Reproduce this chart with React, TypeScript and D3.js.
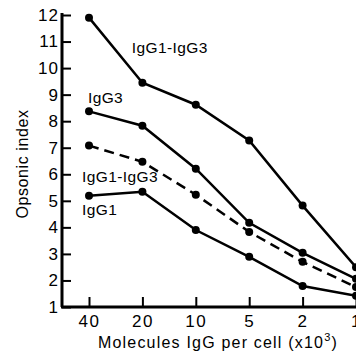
import { useEffect, useRef } from "react";
import * as d3 from "d3";

// x categories (molecules IgG per cell, x10^3)
const doses = ["40", "20", "10", "5", "2", "1"];
const yTicks = [1, 2, 3, 4, 5, 6, 7, 8, 9, 10, 11, 12];

// opsonic index per series
const igg1igg3Top = [11.9, 9.45, 8.62, 7.27, 4.82, 2.5];
const igg3 = [8.37, 7.83, 6.21, 4.17, 3.04, 2.06];
const igg1igg3Dashed = [7.08, 6.47, 5.23, 3.83, 2.7, 1.75];
const igg1 = [5.19, 5.34, 3.9, 2.89, 1.79, 1.42];

const series = [
  { name: "IgG1-IgG3", values: igg1igg3Top, dashed: false },
  { name: "IgG3", values: igg3, dashed: false },
  { name: "IgG1-IgG3", values: igg1igg3Dashed, dashed: true },
  { name: "IgG1", values: igg1, dashed: false },
];

// label positions in data space (category offset, value)
const labels = [
  { text: "IgG1-IgG3", at: [0.8, 10.58] },
  { text: "IgG3", at: [-0.02, 8.7] },
  { text: "IgG1-IgG3", at: [-0.13, 5.7] },
  { text: "IgG1", at: [-0.13, 4.47] },
];

const App = () => {
  const ref = useRef<SVGSVGElement>(null);

  useEffect(() => {
    const width = 356;
    const font = "'Liberation Sans', Arial, sans-serif";

    const svg = d3.select(ref.current);
    svg.selectAll("*").remove();

    const x = d3.scalePoint<string>().domain(doses).range([89, 356]);
    const step = x.step();
    const y = d3.scaleLinear().domain([1, 12]).range([307, 15]);

    // axes
    const yAxis = d3.axisLeft(y).tickValues(yTicks).tickSize(-9).tickSizeOuter(0).tickPadding(3)
      .tickFormat(d3.format("d"));
    const gy = svg.append("g").attr("transform", "translate(62,0)").call(yAxis);
    gy.select(".domain").attr("stroke-width", 3).attr("d", `M0,${y(12) - 2}V${y(1)}`);
    gy.selectAll(".tick line").attr("stroke-width", 2);
    gy.selectAll(".tick text").attr("font-size", 17).attr("font-family", font)
      .attr("letter-spacing", 1).attr("fill", "#000");

    const xAxis = d3.axisBottom(x).tickSize(-10).tickSizeOuter(0).tickPadding(8);
    const gx = svg.append("g").attr("transform", `translate(0,${y(1)})`).call(xAxis);
    gx.select(".domain").attr("stroke-width", 3).attr("d", `M61,0H${width + 2}`);
    gx.selectAll(".tick line").attr("stroke-width", 2);
    gx.selectAll(".tick text").attr("font-size", 17).attr("font-family", font)
      .attr("letter-spacing", 1.5).attr("fill", "#000");

    // axis titles
    svg.append("text")
      .attr("transform", `translate(28,164) rotate(-90)`)
      .attr("text-anchor", "middle")
      .attr("font-family", font)
      .attr("font-size", 16)
      .attr("letter-spacing", 0.6)
      .text("Opsonic index");

    const xt = svg.append("text")
      .attr("x", 218)
      .attr("y", 348)
      .attr("text-anchor", "middle")
      .attr("font-family", font)
      .attr("font-size", 16)
      .attr("letter-spacing", 1.2);
    xt.append("tspan").text("Molecules IgG per cell (x10");
    xt.append("tspan").attr("dy", -7).attr("font-size", 11).text("3");
    xt.append("tspan").attr("dy", 7).text(")");

    // lines + dots
    const line = d3.line<number>()
      .x((_, i) => x(doses[i]) as number)
      .y(d => y(d));

    series.forEach(s => {
      svg.append("path")
        .datum(s.values)
        .attr("fill", "none")
        .attr("stroke", "#000")
        .attr("stroke-width", 2.5)
        .attr("stroke-dasharray", s.dashed ? "10,6" : null)
        .attr("d", line);

      svg.append("g")
        .selectAll("circle")
        .data(s.values)
        .join("circle")
        .attr("cx", (_, i) => x(doses[i]) as number)
        .attr("cy", d => y(d))
        .attr("r", 4)
        .attr("fill", "#000");
    });

    // series labels
    labels.forEach(l => {
      svg.append("text")
        .attr("x", (x(doses[0]) as number) + l.at[0] * step)
        .attr("y", y(l.at[1]))
        .attr("font-family", font)
        .attr("font-size", 15.5)
        .attr("letter-spacing", 0.4)
        .text(l.text);
    });
  }, []);

  return (
    <svg
      ref={ref}
      width={356}
      height={355}
      style={{ position: "absolute", left: 0, top: 0, background: "#fff" }}
    />
  );
};

export default App;
